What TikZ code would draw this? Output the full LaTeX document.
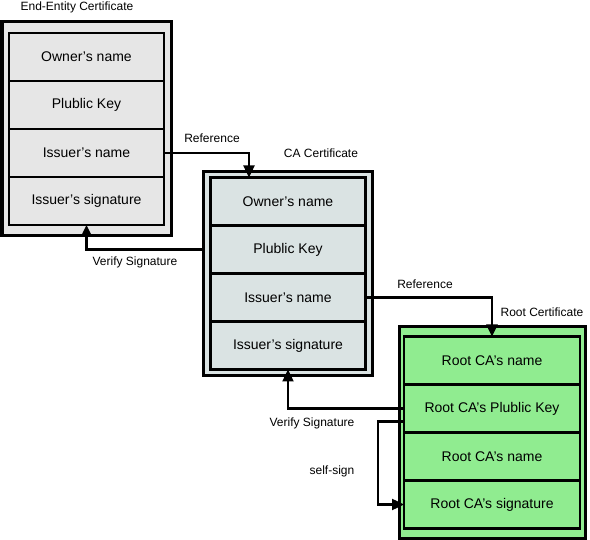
\documentclass[tikz,border=0pt]{standalone}
\usepackage{fontspec}
\setmainfont{Liberation Sans}
\usetikzlibrary{arrows.meta, positioning, fit, backgrounds}
\definecolor{eegray}{HTML}{E6E6E6}
\definecolor{cagray}{HTML}{DAE3E3}
\definecolor{rootgreen}{HTML}{90EC90}

\begin{document}
\begin{tikzpicture}[x=1pt, y=-1pt, >={Triangle[length=12pt,width=11pt]},
          node distance=0pt,
          every node/.style={font=\fontsize{14}{16}\selectfont},
          field/.style={draw, line width=2.8pt, minimum width=155pt,
                        minimum height=48pt, inner sep=0pt, outer sep=0pt},
          frame/.style={draw, line width=3pt, inner xsep=7pt, inner ysep=9pt},
          link/.style={draw, line width=2.4pt, ->},
          lbl/.style={font=\fontsize{12}{14}\selectfont, inner sep=1pt}]
        \useasboundingbox (0,0) rectangle (590,540);
        % end-entity certificate
        \node[field, fill=eegray] at (86.5,57) (e1) {Owner’s name};
        \node[field, fill=eegray, below=of e1] (e2) {Plublic Key};
        \node[field, fill=eegray, below=of e2] (e3) {Issuer’s name};
        \node[field, fill=eegray, below=of e3] (e4) {Issuer’s signature};
        % CA certificate
        \node[field, fill=cagray] at (288,201.5) (c1) {Owner’s name};
        \node[field, fill=cagray, below=of c1] (c2) {Plublic Key};
        \node[field, fill=cagray, below=of c2] (c3) {Issuer’s name};
        \node[field, fill=cagray, below=of c3] (c4) {Issuer’s signature};
        % root certificate
        \node[field, fill=rootgreen, minimum width=176pt] at (492,360.5) (r1) {Root CA’s name};
        \node[field, fill=rootgreen, minimum width=176pt, below=of r1] (r2) {Root CA’s Plublic Key};
        \node[field, fill=rootgreen, minimum width=176pt, below=of r2] (r3) {Root CA’s name};
        \node[field, fill=rootgreen, minimum width=176pt, below=of r3] (r4) {Root CA’s signature};
        \begin{scope}[on background layer]
          \node[frame, fill=eegray, fit=(e1)(e4), inner ysep=11pt] (ee) {};
          \node[frame, fill=cagray, fit=(c1)(c4), inner ysep=6pt] (ca) {};
          \node[frame, fill=rootgreen, fit=(r1)(r4), inner xsep=5pt, inner ysep=10pt] (root) {};
        \end{scope}
        \node[lbl] at (77,7) (eet) {End-Entity Certificate};
        \node[lbl] at (321,153) (cat) {CA Certificate};
        \node[lbl] at (542,312) (roott) {Root Certificate};
        \draw[link] (e3.east) -| ([xshift=-39pt]c1.north);
        \draw[link] (ca.west |- c2) -| (e4.south);
        \draw[link] (c3.east) -| (r1.north);
        \draw[link] (r2.west) -| (c4.south);
        \draw[link] ([yshift=-13pt]r2.west) -- ++(-26,0) |- (r4.west);
        \node[lbl] at (212,138) (ref1) {Reference};
        \node[lbl] at (135,262) (ver1) {Verify Signature};
        \node[lbl] at (425,284) (ref2) {Reference};
        \node[lbl] at (312,423) (ver2) {Verify Signature};
        \node[lbl] at (332,471) (self) {self-sign};
      \end{tikzpicture}
\end{document}
